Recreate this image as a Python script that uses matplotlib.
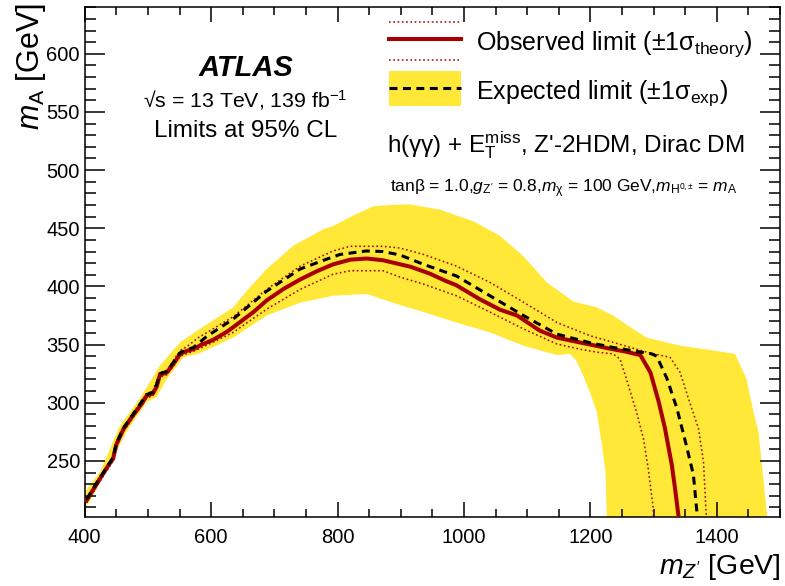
import numpy as np
import matplotlib
matplotlib.use("Agg")
import matplotlib.pyplot as plt
from matplotlib.ticker import MultipleLocator
from matplotlib.patches import Rectangle
from matplotlib.lines import Line2D

plt.rcParams['font.family'] = ['Liberation Sans', 'DejaVu Sans']
plt.rcParams['mathtext.fontset'] = 'custom'
plt.rcParams['mathtext.rm'] = 'Liberation Sans'
plt.rcParams['mathtext.it'] = 'Liberation Sans:italic'
plt.rcParams['mathtext.bf'] = 'Liberation Sans:bold'

# ---------------- data (m_Z' [GeV], m_A [GeV]) ----------------
obs_x = [403, 420, 435, 445, 450, 461, 475, 490, 498, 508, 514, 519, 530, 540, 551, 561, 572,
         585, 603, 625, 640, 667, 688, 715, 741, 767, 793, 820, 846, 872, 899, 915, 946, 970,
         988, 1025, 1057, 1084, 1120, 1147, 1173, 1200, 1226, 1255, 1279, 1295, 1308, 1318,
         1329, 1334, 1340]
obs_y = [216, 231, 244, 252, 264, 277, 288, 299, 306, 308, 314, 324, 326, 333, 342, 344.5, 346,
         350, 354, 361, 367, 378, 388, 398, 406, 413, 419, 423, 424, 422.5, 419, 417, 411, 405,
         401, 389, 380, 375, 362, 356, 353, 350, 347, 344, 341, 326, 301, 278,
         246, 226, 200]

exp_x = [403, 420, 445, 450, 461, 498, 508, 514, 519, 530, 551, 561, 572, 593, 635, 688, 741,
         783, 804, 846, 872, 899, 936, 988, 1041, 1094, 1147, 1200, 1236, 1270, 1297, 1305,
         1321, 1337, 1352, 1363, 1368, 1370]
exp_y = [217, 232, 253, 265, 278, 307, 309, 316, 325, 327, 343, 345.5, 347.5, 357, 372, 396, 415,
         423.5, 427.5, 430.5, 430, 427, 419, 409, 392, 375, 359, 351.5, 347.5, 344.5, 342, 340,
         321, 295, 263, 238, 209, 200]

th_up_x = [403, 420, 445, 450, 461, 498, 508, 519, 530, 551, 561, 580, 635, 688, 741, 793, 820,
           872, 899, 936, 988, 1041, 1094, 1147, 1200, 1226, 1289, 1326, 1342, 1357, 1371,
           1379, 1383, 1384]
th_up_y = [218, 233, 254, 266, 279, 308, 310, 326, 328, 345, 348, 356, 374, 397.5, 417.5, 430.5,
           434.5, 434.5, 433, 427.5, 417.5, 403.5, 386.5, 369, 357.5, 353.5, 343.5, 339, 326,
           300.5, 278, 249, 206, 200]

th_dn_x = [403, 420, 445, 450, 461, 498, 508, 519, 530, 551, 561, 580, 635, 688, 741, 793, 820,
           872, 899, 936, 988, 1041, 1094, 1147, 1184, 1210, 1236, 1247, 1257, 1273, 1284,
           1291.5, 1299.5, 1300]
th_dn_y = [214, 229, 250, 262, 275, 304, 306, 322, 324, 340, 342, 346, 360.5, 380.5, 397.5,
           410.5, 413.5, 413.5, 408, 402, 392, 378, 363.5, 350.5, 346, 343.5, 342, 337.5, 320.5,
           292, 269, 243.5, 209, 200]

band_up_x = [400, 424, 456, 487, 519, 551, 582, 635, 656, 688, 730, 777, 793, 825, 857, 899,
             915, 962, 1015, 1057, 1094, 1131, 1173, 1210, 1236, 1263, 1289, 1342, 1394, 1429,
             1447, 1458, 1466, 1471, 1480]
band_up_y = [223, 240.5, 280.5, 303.5, 332, 352, 363.5, 382, 396, 415, 435, 449, 452, 461, 469,
             470.5, 470.5, 466, 456, 443.5, 426, 403.5, 387, 382, 375, 365, 356, 349, 345, 342,
             320.5, 292, 275, 249, 200]

band_dn_x = [400, 408, 445, 466, 498, 514, 530, 556, 582, 635, 688, 741, 793, 846, 899, 936,
             988, 1041, 1094, 1147, 1168, 1178, 1189, 1200, 1210, 1218, 1224, 1226]
band_dn_y = [211, 215, 252, 275, 300.5, 305, 320.5, 339, 342.5, 356, 375, 386, 392, 393.5, 384,
             378, 369, 360.5, 349, 341, 342, 336, 323, 308, 292, 265, 240, 200]

x_range = (400, 1500)
y_range = (202, 640)
x_major, x_minor = 200, 50
y_major, y_minor = 50, 10

# ---------------- styles ----------------
YEL = '#ffe838'
RED = '#a80000'
W, H = 785, 586


def P(x, y):
    return (x / W, 1 - y / H)


fig = plt.figure(figsize=(W / 100, H / 100), dpi=100)
ax = fig.add_axes([84.7 / W, 1 - 516.7 / H, (780 - 84.7) / W, (516.7 - 7.3) / H])

ax.fill(np.concatenate([band_up_x, band_dn_x[::-1]]),
        np.concatenate([band_up_y, band_dn_y[::-1]]),
        color=YEL, lw=0, zorder=1)
ax.plot(th_up_x, th_up_y, color=RED, lw=1.1, dashes=(1.1, 1.7), dash_capstyle='butt', zorder=3)
ax.plot(th_dn_x, th_dn_y, color=RED, lw=1.1, dashes=(1.1, 1.7), dash_capstyle='butt', zorder=3)
ax.plot(obs_x, obs_y, color=RED, lw=2.9, solid_joinstyle='round', zorder=4)
ax.plot(exp_x, exp_y, color='black', lw=2.2, dashes=(2.6, 1.8), dash_capstyle='butt', zorder=5)

ax.set_xlim(*x_range)
ax.set_ylim(*y_range)
ax.xaxis.set_major_locator(MultipleLocator(x_major))
ax.xaxis.set_minor_locator(MultipleLocator(x_minor))
ax.yaxis.set_major_locator(MultipleLocator(y_major))
ax.yaxis.set_minor_locator(MultipleLocator(y_minor))
ax.tick_params(which='both', direction='in', top=True, right=True, width=1.1, color='black',
               labelsize=14.5)
ax.tick_params(axis='x', which='major', length=10.8, pad=8.0)
ax.tick_params(axis='x', which='minor', length=5.6)
ax.tick_params(axis='y', which='major', length=14.6, pad=3.4)
ax.tick_params(axis='y', which='minor', length=7.6)
for s in ax.spines.values():
    s.set_linewidth(1.1)

# axis titles
fig.text(*P(31, 3), r"$m_{\mathrm{A}}$ [GeV]", rotation=90, ha='center', va='top', fontsize=22)
fig.text(*P(781, 574), r"$m_{Z'}$ [GeV]", ha='right', va='baseline', fontsize=20.5)

# ATLAS label block
fig.text(*P(246, 76), "ATLAS", ha='center', va='baseline', fontsize=21, fontweight='bold',
         fontstyle='italic')
fig.text(*P(245, 107), "√s = 13 TeV, 139 fb$^{-1}$", ha='center', va='baseline', fontsize=15.3)
fig.text(*P(246, 137), "Limits at 95% CL", ha='center', va='baseline', fontsize=17.5)

# legend
fig.add_artist(Line2D([389 / W, 461 / W], [1 - 21.7 / H] * 2, color=RED, lw=1.1,
                      dashes=(1.1, 1.7), transform=fig.transFigure))
fig.add_artist(Line2D([389 / W, 461 / W], [1 - 38.7 / H] * 2, color=RED, lw=2.9,
                      transform=fig.transFigure))
fig.add_artist(Line2D([389 / W, 461 / W], [1 - 60 / H] * 2, color=RED, lw=1.1,
                      dashes=(1.1, 1.7), transform=fig.transFigure))
fig.add_artist(Rectangle(P(389, 106), 72 / W, 35 / H, color=YEL, lw=0,
                         transform=fig.transFigure))
fig.add_artist(Line2D([389 / W, 461 / W], [1 - 88.3 / H] * 2, color='black', lw=2.2,
                      dashes=(2.6, 1.8), transform=fig.transFigure))
fig.text(*P(476, 50), r"Observed limit (±1σ$_{\mathrm{theory}}$)", ha='left', va='baseline',
         fontsize=18)
fig.text(*P(476, 99), r"Expected limit (±1σ$_{\mathrm{exp}}$)", ha='left', va='baseline',
         fontsize=18)

fig.text(*P(387, 152), r"h(γγ) + $\mathrm{E}_{\mathrm{T}}^{\mathrm{miss}}$, Z'-2HDM, Dirac DM",
         ha='left', va='baseline', fontsize=17.5)
fig.text(*P(390, 192),
         r"tanβ = 1.0,$g_{\mathrm{Z'}}$ = 0.8,$m_{\mathrm{χ}}$ = 100 GeV,"
         r"$m_{\mathrm{H}^{\mathrm{0,±}}}$ = $m_{\mathrm{A}}$",
         ha='left', va='baseline', fontsize=12.5)

fig.savefig("out.png", dpi=100)
